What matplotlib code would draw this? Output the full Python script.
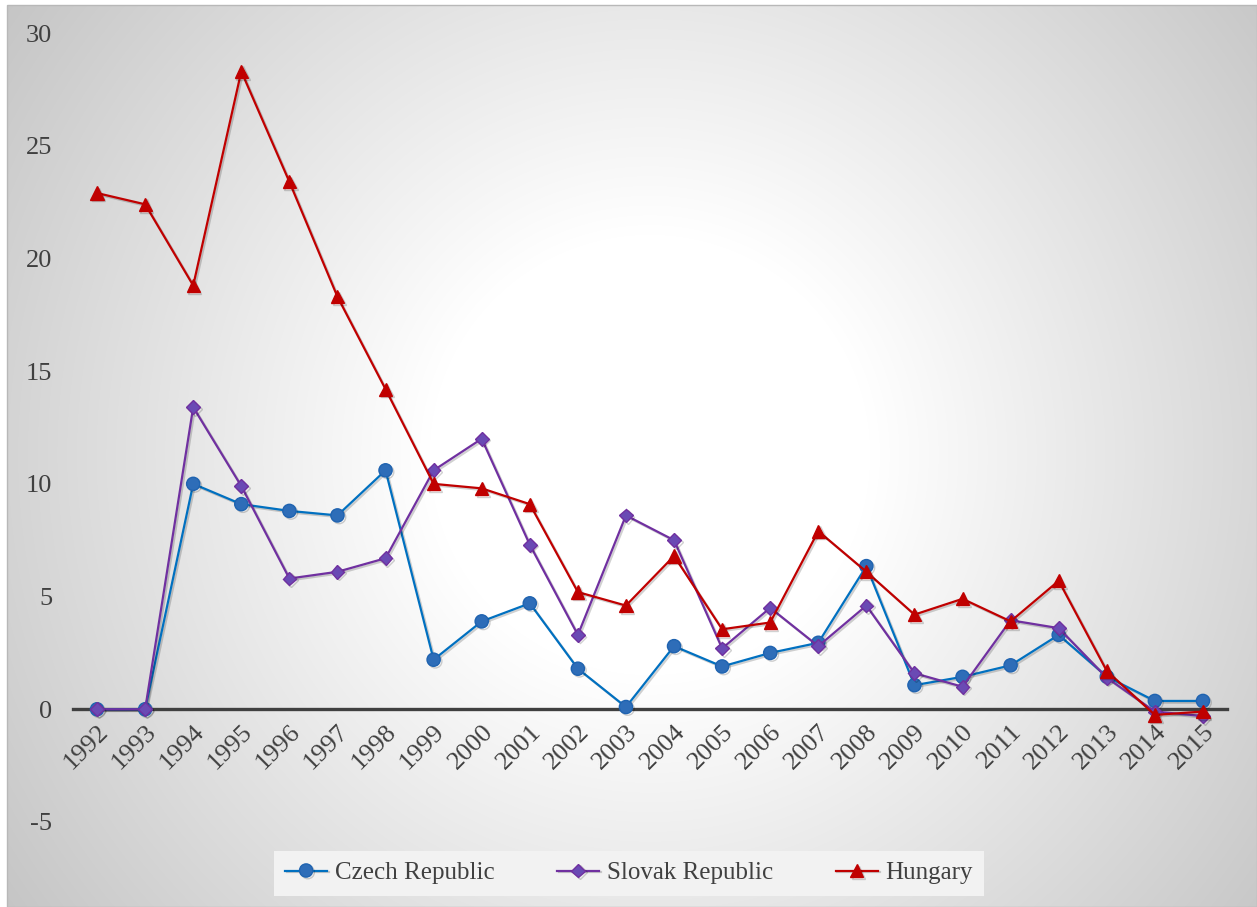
import numpy as np
import matplotlib
matplotlib.use("Agg")
import matplotlib.pyplot as plt
from matplotlib import patheffects as pe
from matplotlib.patches import Rectangle

# ---- data -------------------------------------------------------------
years = [str(y) for y in range(1992, 2016)]

czech = [0.0, 0.0, 10.0, 9.1, 8.8, 8.6, 10.6, 2.2, 3.9, 4.7, 1.8, 0.1,
         2.8, 1.9, 2.5, 2.95, 6.35, 1.07, 1.44, 1.95, 3.3, 1.45, 0.37, 0.37]
slovak = [0.0, 0.0, 13.4, 9.9, 5.8, 6.1, 6.7, 10.6, 12.0, 7.3, 3.3, 8.6,
          7.5, 2.7, 4.5, 2.8, 4.6, 1.6, 1.0, 3.95, 3.6, 1.4, -0.1, -0.3]
hungary = [22.9, 22.4, 18.8, 28.3, 23.4, 18.3, 14.2, 10.0, 9.8, 9.1, 5.2, 4.6,
           6.8, 3.55, 3.85, 7.9, 6.1, 4.2, 4.9, 3.9, 5.7, 1.7, -0.25, -0.1]

y_ticks = [-5, 0, 5, 10, 15, 20, 25, 30]

# ---- figure -----------------------------------------------------------
W, H = 1257, 907
DPI = 100
plt.rcParams["font.family"] = ["Liberation Serif", "DejaVu Serif"]
fig = plt.figure(figsize=(W / DPI, H / DPI), dpi=DPI, facecolor="white")

# radial gradient background of the chart area
bg = fig.add_axes([0, 0, 1, 1], zorder=-10)
bg.set_xlim(0, W)
bg.set_ylim(H, 0)
bg.axis("off")
xx, yy = np.meshgrid(np.arange(W) + 0.5, np.arange(H) + 0.5)
r = np.hypot(xx - 650, yy - 455)
val = 255 - 0.102 * np.clip(r - 220, 0, None)
val = np.clip(val, 190, 255) / 255.0
img = np.dstack([val, val, val])
x0, y0 = 7, 5
bg.imshow(img[y0:, x0:], extent=(x0, W, H, y0), interpolation="bilinear",
          aspect="auto")
bg.add_patch(Rectangle((x0, y0), W - x0, H - y0, fill=False,
                       edgecolor="#b8b8b8", linewidth=1.0))

# ---- plot area ------------------------------------------------------
left, right, top, bottom = 73, 1227, 33, 822
ax = fig.add_axes([left / W, 1 - bottom / H, (right - left) / W, (bottom - top) / H])
ax.set_facecolor("none")

x = np.arange(len(years))
shadow = [pe.SimpleLineShadow(offset=(1.2, -1.2), shadow_color="black", alpha=0.18),
          pe.Normal()]

ax.plot(x, czech, color="#0070C0", linewidth=1.6, marker="o", markersize=9.5,
        markerfacecolor="#2E6DB8", markeredgecolor="#1F63B0", markeredgewidth=1.0,
        label="Czech Republic", zorder=3, path_effects=shadow)
ax.plot(x, slovak, color="#7030A0", linewidth=1.6, marker="D", markersize=7,
        markerfacecolor="#6A4AB4", markeredgecolor="#7030A0", markeredgewidth=1.0,
        label="Slovak Republic", zorder=4, path_effects=shadow)
ax.plot(x, hungary, color="#C00000", linewidth=1.6, marker="^", markersize=9.5,
        markerfacecolor="#C00000", markeredgecolor="#C00000", markeredgewidth=1.0,
        label="Hungary", zorder=5, path_effects=shadow)

ax.set_xlim(-0.5, len(years) - 0.5)
ax.set_ylim(-5, 30)

for side in ("top", "right", "left"):
    ax.spines[side].set_visible(False)
ax.spines["bottom"].set_position(("data", 0))
ax.spines["bottom"].set_color("#404040")
ax.spines["bottom"].set_linewidth(2.4)
ax.spines["bottom"].set_zorder(2)

ax.set_yticks(y_ticks)
ax.set_yticklabels([str(v) for v in y_ticks])
ax.tick_params(axis="y", length=0, pad=15, labelsize=19, labelcolor="#404040")

ax.set_xticks(x)
ax.set_xticklabels(years, rotation=45, ha="right", va="top",
                   rotation_mode="anchor")
ax.tick_params(axis="x", length=0, pad=8, labelsize=19, labelcolor="#404040")

leg = ax.legend(loc="center", bbox_to_anchor=(629 / W, 1 - 873 / H),
                bbox_transform=fig.transFigure, ncol=3, frameon=True,
                fancybox=False, facecolor="#f2f2f2", edgecolor="none",
                framealpha=1.0, fontsize=18, handlelength=1.7,
                handletextpad=0.3, columnspacing=2.5, borderpad=0.45)
for t in leg.get_texts():
    t.set_color("#404040")

fig.savefig("out.png", dpi=DPI, facecolor=fig.get_facecolor())
